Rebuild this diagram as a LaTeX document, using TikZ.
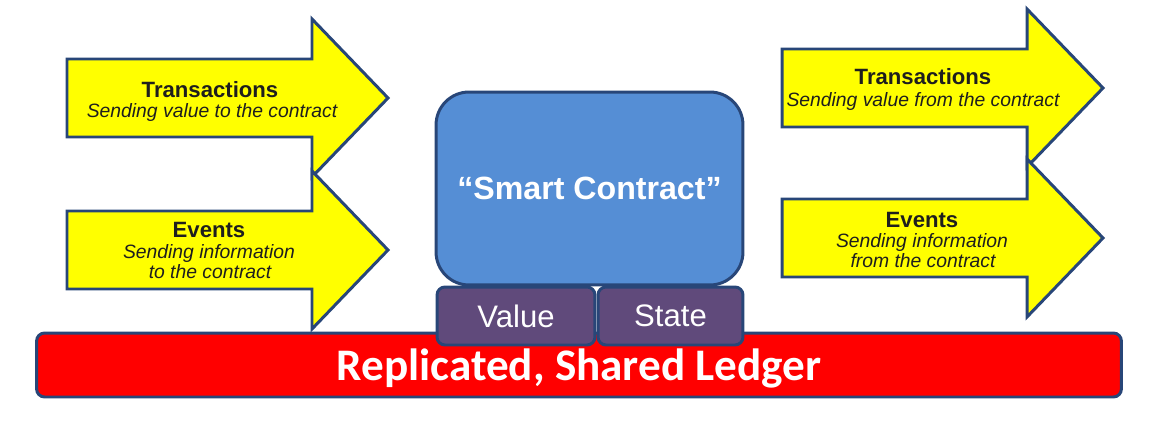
\documentclass[tikz,border=0pt]{standalone}
\usepackage{fontspec}
\setmainfont{Liberation Sans}
\newfontfamily\ledgerfont{Carlito}
\definecolor{outline}{RGB}{40,70,120}
\definecolor{arrowyellow}{RGB}{255,255,0}
\definecolor{labelgray}{RGB}{30,30,30}
\definecolor{contractblue}{RGB}{85,142,213}
\definecolor{storepurple}{RGB}{96,74,123}
\definecolor{ledgerred}{RGB}{255,0,0}

\begin{document}
\begin{tikzpicture}[x=0.02cm,y=-0.02cm,line width=1.7pt,
  arrow shape/.style={draw=outline,fill=arrowyellow},
  title text/.style={anchor=base,inner sep=0pt,text=labelgray,font=\fontsize{12.6}{15}\selectfont\bfseries},
  sub text/.style={anchor=base,inner sep=0pt,text=labelgray,font=\fontsize{11}{13}\selectfont\itshape},
  box/.style={draw=outline,rounded corners=0.16cm,text=white,inner sep=0pt},
  fat arrow/.pic={\path[arrow shape] (0,-39) -- (245,-39) -- (245,-79) -- (321,0) -- (245,79) -- (245,39) -- (0,39) -- cycle;}]

  \useasboundingbox (0,0) rectangle (1150,436);

  % input arrows
  \pic at (67,98) {fat arrow};
  \pic at (67,250) {fat arrow};
  % output arrows
  \pic at (782,88) {fat arrow};
  \pic at (782,238) {fat arrow};

  \node[title text] (txin) at (210,97) {Transactions};
  \node[sub text] (txin sub) at (212,117) {Sending value to the contract};
  \node[title text] (evin) at (209,237) {Events};
  \node[sub text] (evin sub1) at (209,258) {Sending information};
  \node[sub text] (evin sub2) at (210,278) {to the contract};

  \node[title text] (txout) at (923,84) {Transactions};
  \node[sub text] (txout sub) at (923,106) {Sending value from the contract};
  \node[title text] (evout) at (922,227) {Events};
  \node[sub text] (evout sub1) at (922,247) {Sending information};
  \node[sub text] (evout sub2) at (923,267) {from the contract};

  \node[box,fill=contractblue,minimum width=6.14cm,minimum height=3.86cm,rounded corners=0.66cm,
    font=\fontsize{18.3}{22}\selectfont\bfseries] (contract) at (589.5,188.5) {“Smart Contract”};

  \node[box,fill=ledgerred,minimum width=21.7cm,minimum height=1.28cm,text depth=0pt,
    font=\ledgerfont\bfseries\fontsize{25.7}{30}\selectfont] (ledger) at (579,365) {Replicated, Shared Ledger};

  \node[box,fill=storepurple,minimum width=3.16cm,minimum height=1.16cm,
    font=\fontsize{17.7}{20}\selectfont] (value) at (516,316) {Value};
  \node[box,fill=storepurple,minimum width=2.9cm,minimum height=1.16cm,
    font=\fontsize{17.7}{20}\selectfont] (state) at (670.5,316) {State};
\end{tikzpicture}
\end{document}
